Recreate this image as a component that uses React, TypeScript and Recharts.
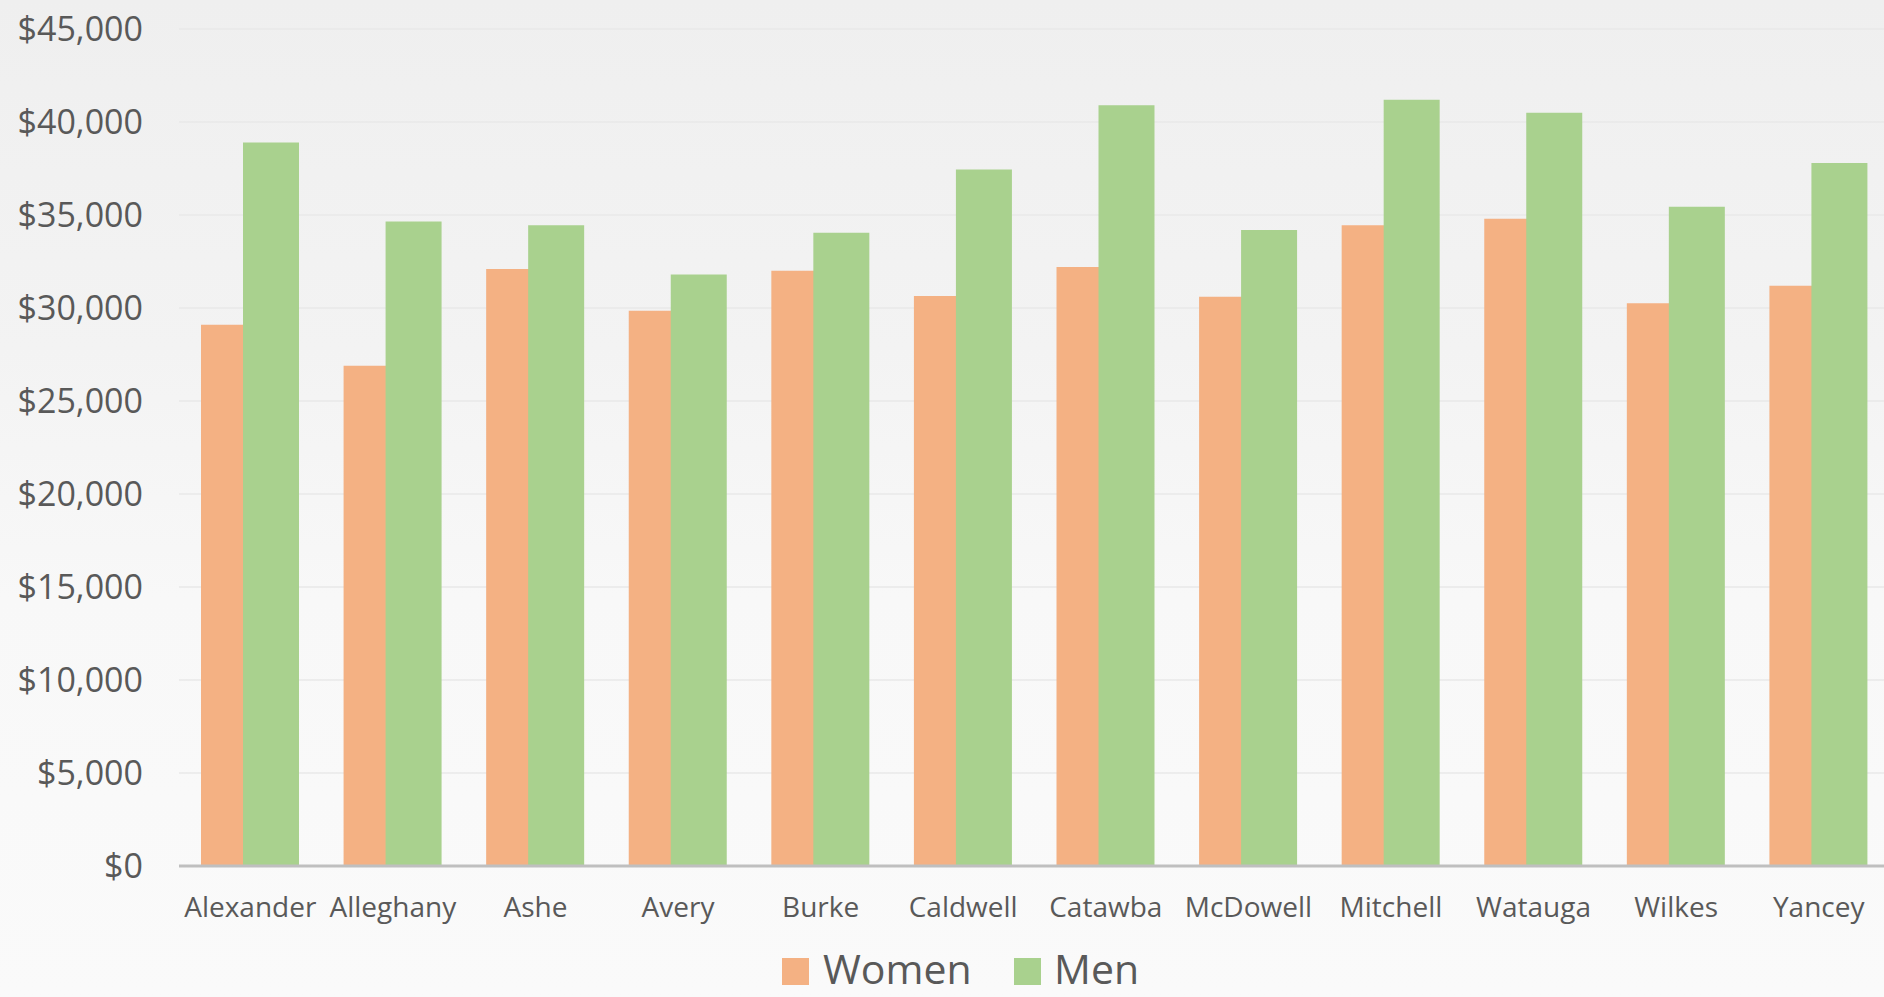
import React from "react";
import { BarChart, Bar, XAxis, YAxis, CartesianGrid, Legend } from "recharts";

const counties = ["Alexander", "Alleghany", "Ashe", "Avery", "Burke", "Caldwell", "Catawba", "McDowell", "Mitchell", "Watauga", "Wilkes", "Yancey"];
const women = [29100, 26900, 32100, 29850, 32000, 30650, 32200, 30600, 34450, 34800, 30250, 31200];
const men = [38900, 34650, 34450, 31800, 34050, 37450, 40900, 34200, 41200, 40500, 35450, 37800];
const yTicks = [0, 5000, 10000, 15000, 20000, 25000, 30000, 35000, 40000, 45000];
const seriesNames = ["Women", "Men"];

const data = counties.map((c, i) => ({ county: c, Women: women[i], Men: men[i] }));

const WOMEN_COLOR = "#F4B183";
const MEN_COLOR = "#A9D18E";
const TEXT = "#595959";
const FONT = "'Open Sans', 'Noto Sans', sans-serif";

const fmt = (v: number) => "$" + v.toLocaleString("en-US");

const LegendContent = () => (
  <div style={{ position: "relative", width: 1884, height: 60, fontFamily: FONT }}>
    <div style={{ position: "absolute", left: 782, top: 21, width: 27, height: 27, background: WOMEN_COLOR }} />
    <div style={{ position: "absolute", left: 823, top: 13, fontSize: 41, lineHeight: "36px", color: TEXT, whiteSpace: "nowrap" }}>{seriesNames[0]}</div>
    <div style={{ position: "absolute", left: 1014, top: 21, width: 27, height: 27, background: MEN_COLOR }} />
    <div style={{ position: "absolute", left: 1054, top: 13, fontSize: 41, lineHeight: "36px", color: TEXT, whiteSpace: "nowrap" }}>{seriesNames[1]}</div>
  </div>
);

export default function App() {
  return (
    <div
      style={{
        position: "absolute",
        left: 0,
        top: 0,
        width: 1884,
        height: 997,
        overflow: "hidden",
        background: "linear-gradient(180deg, #efefef 0%, #f3f3f3 35%, #f8f8f8 60%, #fafafa 100%)",
      }}
    >
      <BarChart
        width={1884}
        height={997}
        data={data}
        margin={{ top: 29, right: -6, left: 0, bottom: 0 }}
        barGap={-14}
        barSize={56}
      >
        <CartesianGrid vertical={false} stroke="#e9e9e9" strokeWidth={1.5} />
        <XAxis
          dataKey="county"
          height={71}
          tickLine={false}
          tickSize={0}
          tickMargin={31}
          axisLine={{ stroke: "#bfbfbf", strokeWidth: 3 }}
          interval={0}
          tick={{ fill: TEXT, fontSize: 28, fontFamily: FONT }}
        />
        <YAxis
          width={179}
          domain={[0, 45000]}
          ticks={yTicks}
          tickFormatter={fmt}
          axisLine={false}
          tickLine={false}
          tickSize={0}
          tickMargin={36}
          tick={{ fill: TEXT, fontSize: 34, fontFamily: FONT }}
        />
        <Legend verticalAlign="bottom" align="left" height={60} content={<LegendContent />} />
        <Bar dataKey="Women" fill={WOMEN_COLOR} isAnimationActive={false} />
        <Bar dataKey="Men" fill={MEN_COLOR} isAnimationActive={false} />
      </BarChart>
    </div>
  );
}
